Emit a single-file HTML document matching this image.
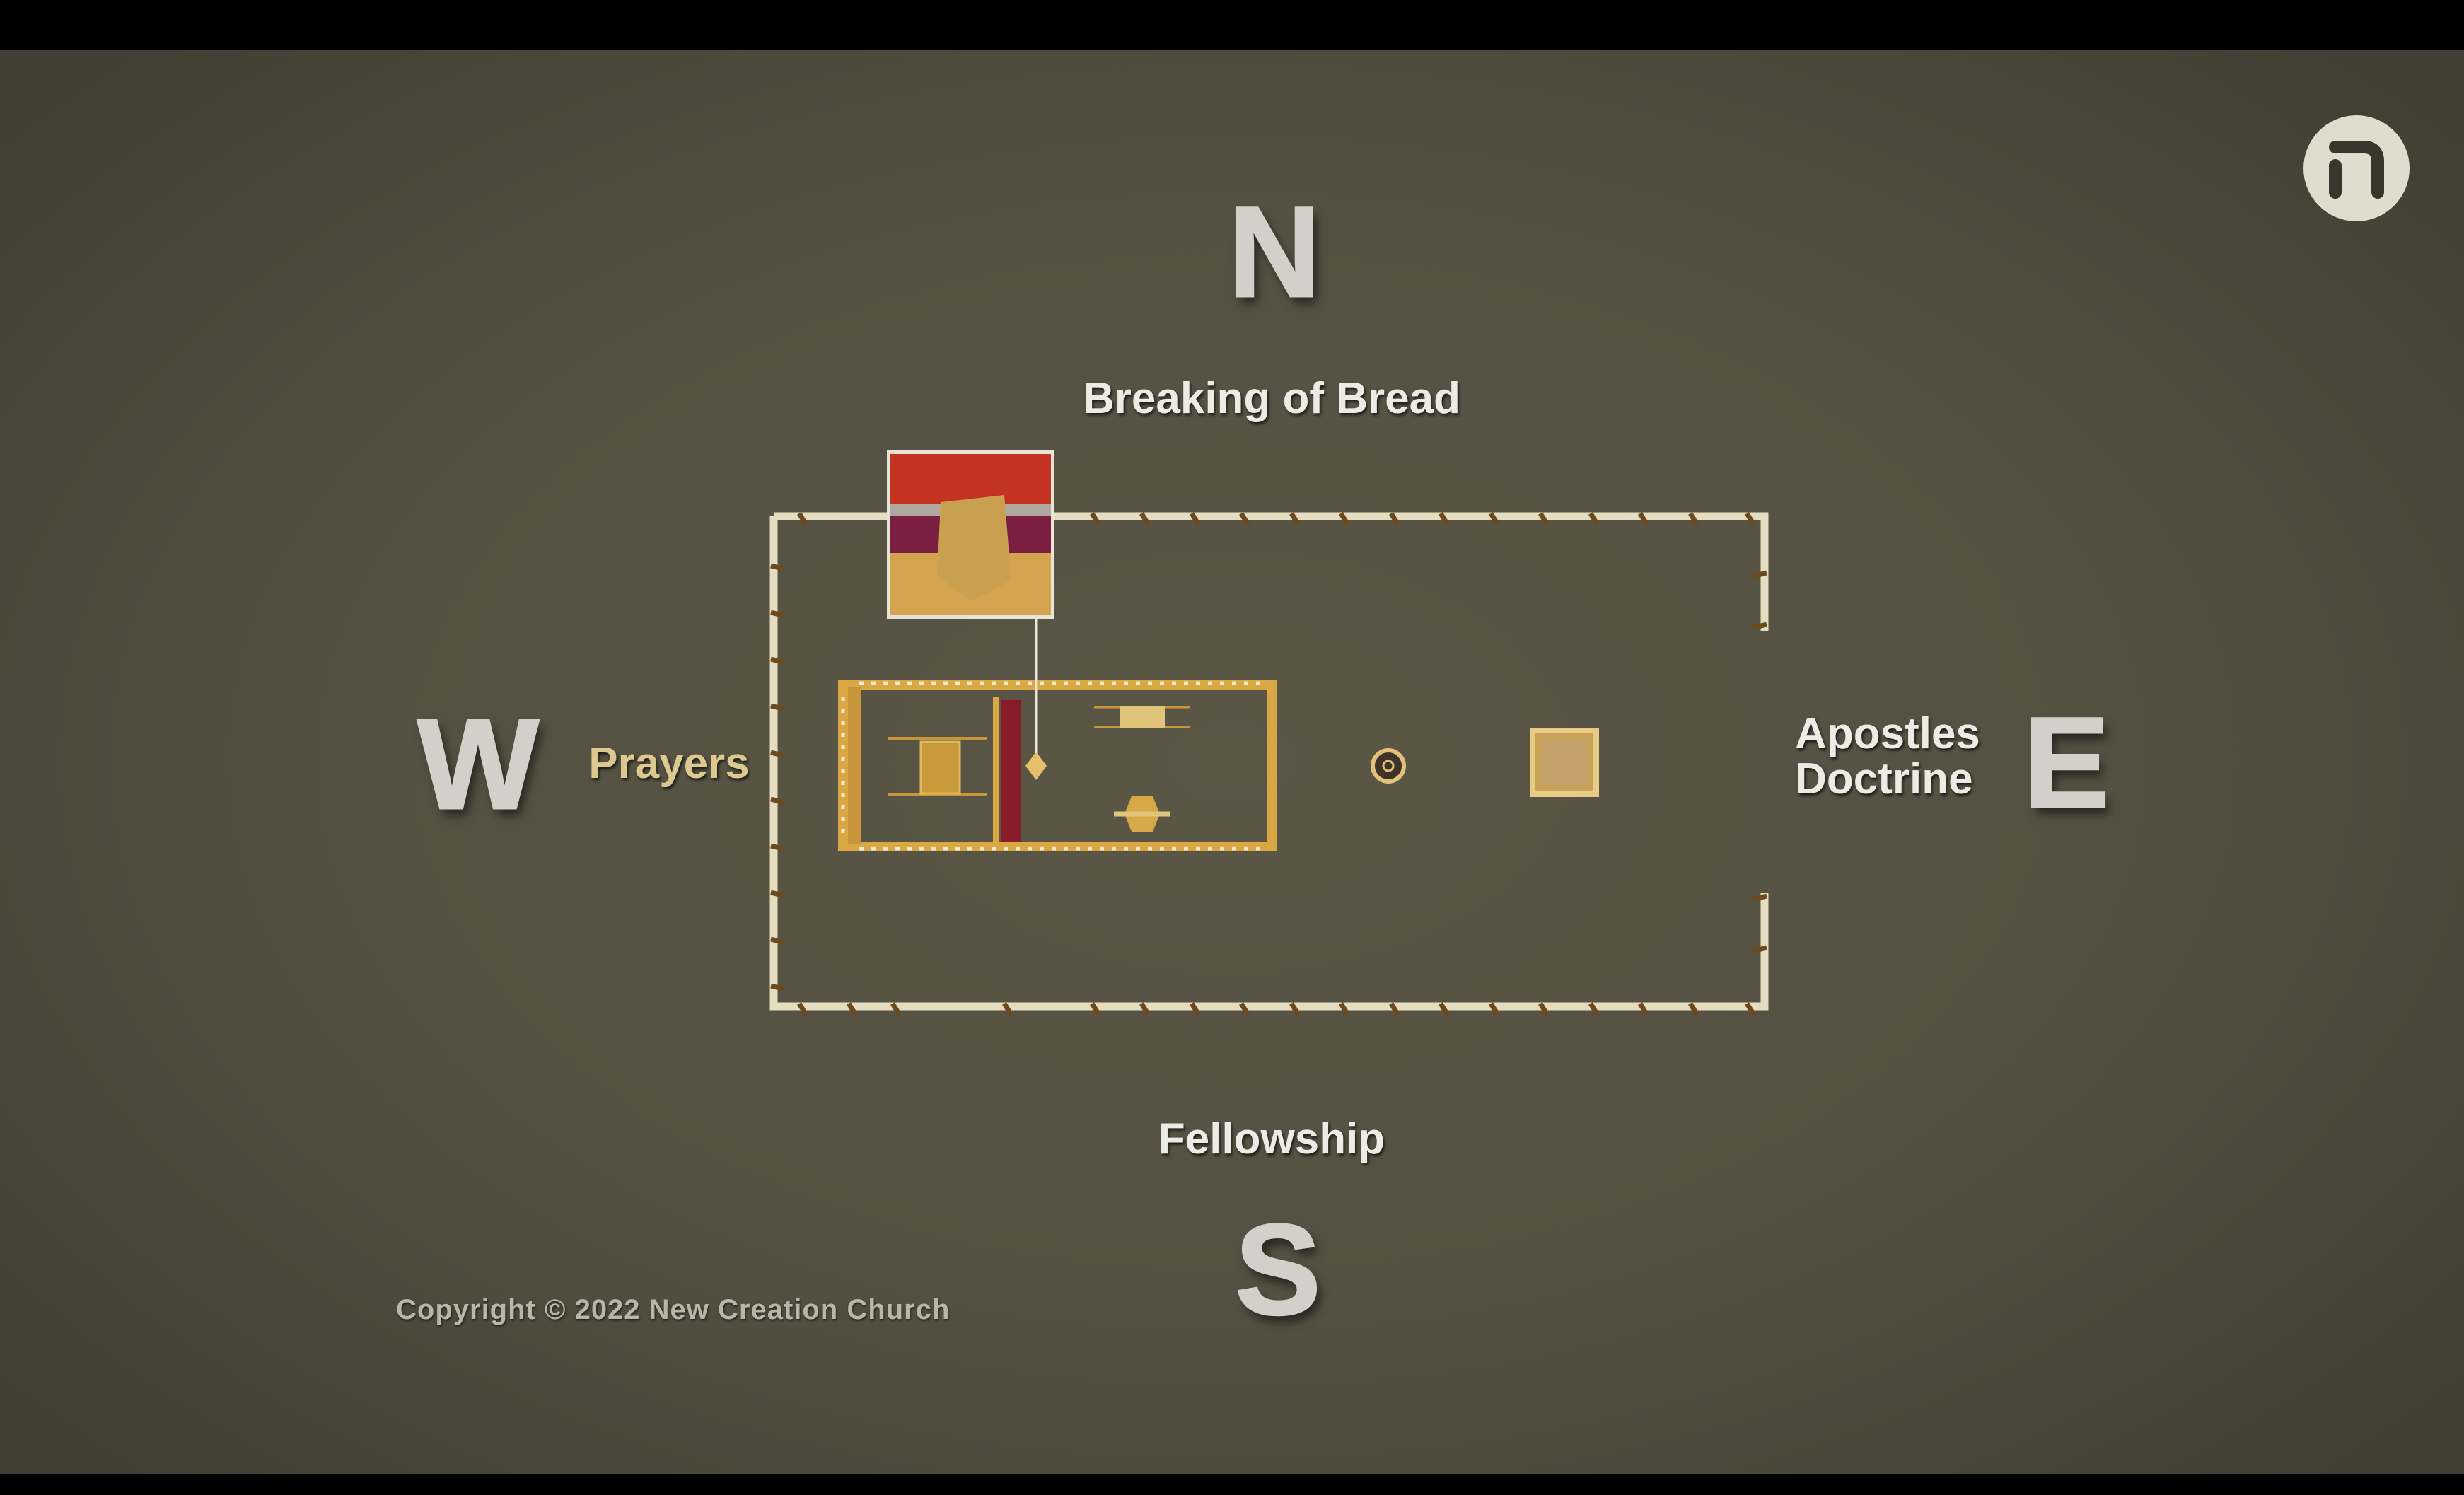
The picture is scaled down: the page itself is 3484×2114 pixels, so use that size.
<!DOCTYPE html>
<html><head><meta charset="utf-8"><style>
html,body{margin:0;padding:0;background:#000}
body{width:3484px;height:2114px;position:relative;overflow:hidden;font-family:"Liberation Sans",sans-serif}
#bg{position:absolute;left:0;top:70px;width:3484px;height:2014px;background:radial-gradient(ellipse 65% 70% at 50% 50%,#5b5747 0%,#555142 55%,#423e33 100%)}
.t{position:absolute;font-weight:bold;white-space:nowrap;transform:translate(-50%,-50%);line-height:1}
.big{font-size:182px;color:#d2d0c8;-webkit-text-stroke:3px #d2d0c8;text-shadow:6px 10px 14px rgba(0,0,0,.55)}
.lab{font-size:62px;color:#ecebe4;text-shadow:2px 3px 4px rgba(0,0,0,.7)}
</style></head><body>
<div id="bg"></div>
<svg width="3484" height="2114" style="position:absolute;left:0;top:0">
<circle cx="3332" cy="238" r="75" fill="#e0ddcf"/>
<path d="M3302 208 H3342 Q3362 208 3362 228 V272" stroke="#3a362c" stroke-width="18" fill="none" stroke-linecap="round"/>
<line x1="3302" y1="234" x2="3302" y2="272" stroke="#3a362c" stroke-width="18" stroke-linecap="round"/>
<!-- fence -->
<g fill="none" stroke="#e6dcc0" stroke-width="11">
<path d="M1094 730 H2495 V892"/>
<path d="M2495 1263 V1423 H1094 V730"/>
</g>
<g stroke="#6b4a20" stroke-width="7">
<g id="topposts">
<line x1="1130" y1="726" x2="1140" y2="742"/><line x1="1262" y1="726" x2="1272" y2="742"/><line x1="1544" y1="726" x2="1554" y2="742"/><line x1="1614" y1="726" x2="1624" y2="742"/><line x1="1685" y1="726" x2="1695" y2="742"/><line x1="1755" y1="726" x2="1765" y2="742"/><line x1="1826" y1="726" x2="1836" y2="742"/><line x1="1896" y1="726" x2="1906" y2="742"/><line x1="1967" y1="726" x2="1977" y2="742"/><line x1="2037" y1="726" x2="2047" y2="742"/><line x1="2108" y1="726" x2="2118" y2="742"/><line x1="2178" y1="726" x2="2188" y2="742"/><line x1="2249" y1="726" x2="2259" y2="742"/><line x1="2319" y1="726" x2="2329" y2="742"/><line x1="2390" y1="726" x2="2400" y2="742"/><line x1="2470" y1="726" x2="2480" y2="742"/>
</g>
<g transform="translate(0,693)"><use href="#topposts"/><line x1="1200" y1="726" x2="1210" y2="742"/><line x1="1420" y1="726" x2="1430" y2="742"/></g>
<line x1="1090" y1="800" x2="1110" y2="805"/><line x1="1090" y1="866" x2="1110" y2="871"/><line x1="1090" y1="932" x2="1110" y2="937"/><line x1="1090" y1="998" x2="1110" y2="1003"/><line x1="1090" y1="1064" x2="1110" y2="1069"/><line x1="1090" y1="1130" x2="1110" y2="1135"/><line x1="1090" y1="1196" x2="1110" y2="1201"/><line x1="1090" y1="1262" x2="1110" y2="1267"/><line x1="1090" y1="1328" x2="1110" y2="1333"/><line x1="1090" y1="1394" x2="1110" y2="1399"/>
<line x1="2478" y1="815" x2="2498" y2="810"/><line x1="2478" y1="888" x2="2498" y2="883"/><line x1="2478" y1="1272" x2="2498" y2="1267"/><line x1="2478" y1="1345" x2="2498" y2="1340"/>
</g>
<!-- tabernacle -->
<rect x="1192" y="969" width="606" height="228" fill="none" stroke="#d9a844" stroke-width="14"/>
<rect x="1199" y="972" width="18" height="222" fill="#c9953a"/>
<g stroke="#f3ead0" stroke-width="5" stroke-dasharray="6 11">
<line x1="1215" y1="966" x2="1790" y2="966"/><line x1="1215" y1="1200" x2="1790" y2="1200"/><line x1="1192" y1="985" x2="1192" y2="1185"/>
</g>
<rect x="1416" y="990" width="28" height="200" fill="#8a1c2a"/>
<line x1="1408" y1="985" x2="1408" y2="1190" stroke="#d9a844" stroke-width="8"/>
<line x1="1798" y1="975" x2="1798" y2="1195" stroke="#d9a844" stroke-width="12"/>
<line x1="1256" y1="1044" x2="1395" y2="1044" stroke="#c9953a" stroke-width="4"/>
<line x1="1256" y1="1124" x2="1395" y2="1124" stroke="#c9953a" stroke-width="4"/>
<rect x="1302" y="1049" width="55" height="73" fill="#c99a3c" stroke="#e0b85c" stroke-width="3"/>
<polygon points="1465,1063 1480,1083 1465,1103 1450,1083" fill="#e6c06a"/>
<line x1="1465" y1="875" x2="1465" y2="1065" stroke="#e8e4d8" stroke-width="3"/>
<line x1="1547" y1="1000" x2="1683" y2="1000" stroke="#c9953a" stroke-width="3"/>
<line x1="1547" y1="1028" x2="1683" y2="1028" stroke="#c9953a" stroke-width="3"/>
<rect x="1583" y="999" width="64" height="30" fill="#e0c47a"/>
<polygon points="1600,1126 1630,1126 1640,1151 1630,1176 1600,1176 1590,1151" fill="#d6a848"/>
<line x1="1575" y1="1151" x2="1655" y2="1151" stroke="#e0c47a" stroke-width="7"/>
<!-- laver & altar -->
<circle cx="1963" cy="1083" r="22" fill="#3e3326" stroke="#e2c07a" stroke-width="6"/>
<circle cx="1963" cy="1083" r="7" fill="none" stroke="#e2c07a" stroke-width="3"/>
<rect x="2167" y="1033" width="90" height="90" fill="#c9a25a" stroke="#e8cb85" stroke-width="8"/>
<rect x="2180" y="1046" width="64" height="64" fill="#c4a06a"/>
<!-- photo -->
<rect x="1254" y="637" width="237" height="238" fill="#e8e4d8"/>
<rect x="1259" y="642" width="227" height="228" fill="#d4a450"/>
<rect x="1259" y="642" width="227" height="70" fill="#c43222"/>
<rect x="1259" y="712" width="227" height="18" fill="#b0a8a0"/>
<rect x="1259" y="730" width="227" height="52" fill="#7a1e42"/>
<polygon points="1330,710 1420,700 1430,820 1375,850 1325,815" fill="#c8a050"/>
</svg>
<div class="t big" style="left:1802px;top:356px">N</div>
<div class="t big" style="left:676px;top:1080px">W</div>
<div class="t big" style="left:2922px;top:1078px">E</div>
<div class="t big" style="left:1807px;top:1795px">S</div>
<div class="t lab" style="left:1798px;top:564px">Breaking of Bread</div>
<div class="t lab" style="left:946px;top:1080px;color:#dcc990">Prayers</div>
<div class="t lab" style="left:2669px;top:1070px;line-height:64px;text-align:left">Apostles<br>Doctrine</div>
<div class="t lab" style="left:1798px;top:1611px">Fellowship</div>
<div style="position:absolute;left:560px;top:1830px;font-size:40px;letter-spacing:1px;font-weight:bold;color:#b9b5a8;white-space:nowrap;text-shadow:1px 2px 3px rgba(0,0,0,.6)">Copyright © 2022 New Creation Church</div>
</body></html>
